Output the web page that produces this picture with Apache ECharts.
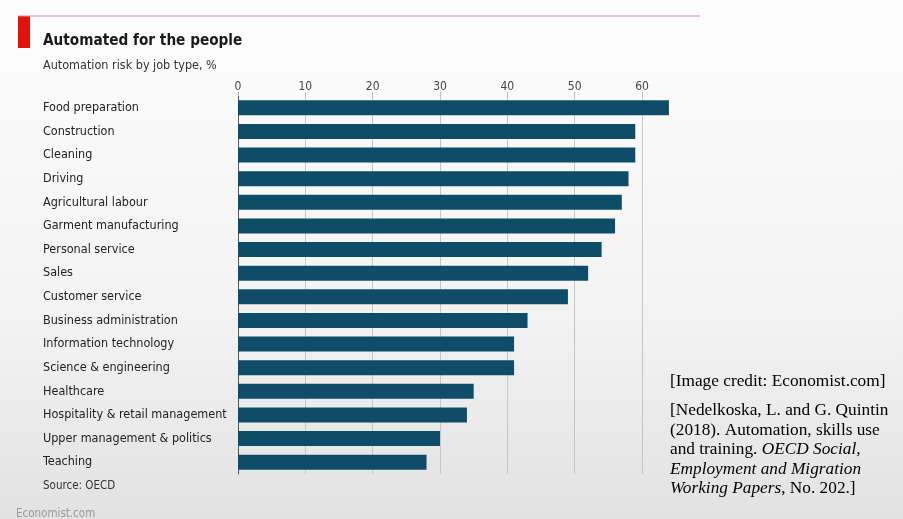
<!DOCTYPE html>
<html>
<head>
<meta charset="utf-8">
<script src="https://cdn.jsdelivr.net/npm/echarts@6/dist/echarts.min.js"></script>
<style>
  html, body { margin: 0; padding: 0; }
  #chart { width: 903px; height: 519px; }
</style>
</head>
<body>
<div id="chart"></div>
<script>
// Automation risk by job type (%), OECD
const jobTypes = [
  'Food preparation', 'Construction', 'Cleaning', 'Driving',
  'Agricultural labour', 'Garment manufacturing', 'Personal service', 'Sales',
  'Customer service', 'Business administration', 'Information technology',
  'Science & engineering', 'Healthcare', 'Hospitality & retail management',
  'Upper management & politics', 'Teaching'
];
const riskValues = [64, 59, 59, 58, 57, 56, 54, 52, 49, 43, 41, 41, 35, 34, 30, 28];
const tickValues = [0, 10, 20, 30, 40, 50, 60];

const titleText = 'Automated for the people';
const subtitleText = 'Automation risk by job type, %';
const sourceText = 'Source: OECD';
const footerText = 'Economist.com';
const creditLines = [
  [{ t: '[Image credit: Economist.com]' }],
  [{ t: '[Nedelkoska, L. and G. Quintin' }],
  [{ t: '(2018). Automation, skills use' }],
  [{ t: 'and training. ' }, { t: 'OECD Social,', i: true }],
  [{ t: 'Employment and Migration', i: true }],
  [{ t: 'Working Papers', i: true }, { t: ', No. 202.]' }]
];

const narrow = "'DejaVu Sans Condensed', 'Liberation Sans Narrow', sans-serif";
const serif = "'Liberation Serif', 'DejaVu Serif', serif";

const chart = echarts.init(document.getElementById('chart'));

// credit block rendered with rich text so italic runs sit inline
const creditRich = {
  n: { fontFamily: serif, fontSize: 17.3, color: '#2a2a2a', fontStyle: 'normal', lineHeight: 19.5 },
  it: { fontFamily: serif, fontSize: 17.3, color: '#2a2a2a', fontStyle: 'italic', lineHeight: 19.5 }
};
const creditGraphics = creditLines.map((line, idx) => ({
  type: 'text',
  left: 670,
  top: (idx === 0 ? 373 : 402 + (idx - 1) * 19.6),
  style: {
    text: line.map(seg => '{' + (seg.i ? 'it' : 'n') + '|' + seg.t + '}').join(''),
    rich: creditRich
  }
}));

chart.setOption({
  backgroundColor: new echarts.graphic.LinearGradient(0, 0, 0, 1, [
    { offset: 0, color: '#fdfdfd' },
    { offset: 0.6, color: '#f3f3f3' },
    { offset: 1, color: '#e2e2e2' }
  ]),
  animation: false,
  grid: { left: 238, right: 261, top: 96, bottom: 45, containLabel: false },
  xAxis: {
    type: 'value',
    position: 'top',
    min: 0,
    max: 60,
    interval: 10,
    axisLine: { show: false },
    axisTick: { show: true, length: 4, lineStyle: { color: '#bbbbbb' } },
    axisLabel: {
      margin: 3,
      color: '#444',
      fontFamily: narrow,
      fontSize: 12,
      formatter: v => (tickValues.includes(v) ? String(v) : '')
    },
    splitLine: { show: true, lineStyle: { color: '#c6c6c6', width: 1 } }
  },
  yAxis: {
    type: 'category',
    inverse: true,
    data: jobTypes,
    axisLine: { show: true, lineStyle: { color: '#555', width: 1 } },
    axisTick: { show: false },
    axisLabel: {
      align: 'left',
      margin: 195,
      color: '#222',
      fontFamily: narrow,
      fontSize: 12.5
    }
  },
  series: [{
    type: 'bar',
    data: riskValues,
    clip: false,
    barWidth: 15,
    itemStyle: { color: '#0f4c68' }
  }],
  graphic: [
    { type: 'rect', shape: { x: 18, y: 16, width: 12, height: 32 }, style: { fill: '#e3120b' } },
    { type: 'line', shape: { x1: 18, y1: 16, x2: 700, y2: 16 }, style: { stroke: '#e88a8a', lineWidth: 1.2 } },
    { type: 'text', left: 43, top: 34, style: { text: titleText, fontFamily: narrow, fontWeight: 'bold', fontSize: 15.2, fill: '#1a1a1a' } },
    { type: 'text', left: 43, top: 59, style: { text: subtitleText, fontFamily: narrow, fontSize: 12.5, fill: '#333' } },
    { type: 'text', left: 43, top: 480, style: { text: sourceText, fontFamily: narrow, fontSize: 11.5, fill: '#333' } },
    { type: 'text', left: 16, top: 508, style: { text: footerText, fontFamily: narrow, fontSize: 11.5, fill: '#999' } },
    ...creditGraphics
  ]
});
</script>
</body>
</html>
